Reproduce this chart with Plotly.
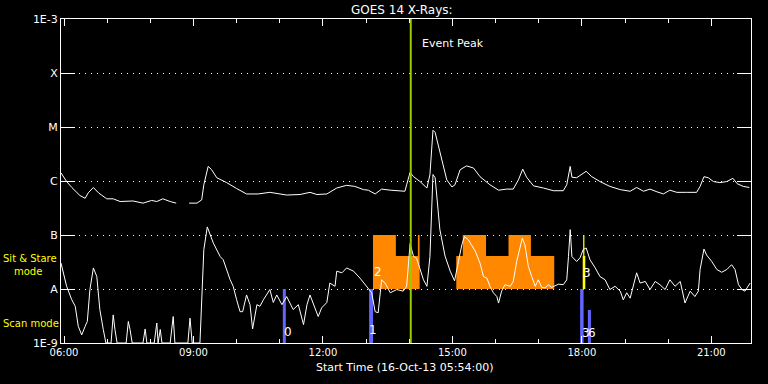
import plotly.graph_objects as go

# ---------------- data (time in decimal hours UT, log10 flux W/m^2) ----------------
long_t = [5.93, 6.06, 6.18, 6.37, 6.49, 6.56, 6.68, 6.80, 6.99, 7.14,
          7.30, 7.60, 7.83, 8.03, 8.15, 8.29, 8.46, 8.60, 8.75, 8.90,
          9.08, 9.19, 9.24, 9.34, 9.42, 9.54, 9.77, 10.00, 10.23, 10.50,
          10.77, 11.16, 11.47, 11.70, 11.86, 12.09, 12.32, 12.55, 12.74, 12.94,
          13.05, 13.21, 13.36, 13.56, 13.90, 13.94, 14.02, 14.10, 14.25, 14.37,
          14.41, 14.48, 14.55, 14.60, 14.75, 14.87, 14.99, 15.06, 15.18, 15.33,
          15.49, 15.64, 15.87, 16.07, 16.26, 16.41, 16.53, 16.63, 16.72, 16.88,
          17.11, 17.34, 17.57, 17.65, 17.73, 17.77, 17.88, 18.00, 18.10, 18.23,
          18.42, 18.65, 18.89, 19.12, 19.27, 19.43, 19.58, 19.74, 19.89, 20.04,
          20.20, 20.43, 20.66, 20.74, 20.83, 20.93, 21.05, 21.20, 21.36, 21.50,
          21.60, 21.74, 21.88]
long_log = [-5.85, -6.01, -6.12, -6.27, -6.32, -6.22, -6.12, -6.22, -6.33, -6.33,
            -6.38, -6.37, -6.41, -6.36, -6.38, -6.33, -6.38, -6.41, None, -6.41,
            -6.41, -6.35, -6.07, -5.73, -5.79, -5.94, -6.03, -6.14, -6.24, -6.24,
            -6.21, -6.26, -6.25, -6.21, -6.25, -6.24, -6.13, -6.08, -6.10, -6.16,
            -6.17, -6.24, -6.15, -6.17, -6.19, -6.07, -5.84, -5.92, -6.01, -6.10,
            -6.13, -5.88, -5.06, -5.10, -5.61, -5.98, -6.11, -6.07, -5.79, -5.72,
            -5.76, -5.92, -6.07, -6.17, -6.15, -6.15, -5.98, -5.78, -5.93, -6.09,
            -6.13, -6.18, -6.18, -6.07, -5.73, -5.93, -5.94, -5.88, -5.82, -5.92,
            -6.01, -6.10, -6.16, -6.19, -6.12, -6.19, -6.15, -6.20, -6.24, -6.17,
            -6.21, -6.21, -6.21, -6.10, -5.92, -5.94, -6.01, -6.03, -6.01, -5.95,
            -6.05, -6.10, -6.12]

short_t = [5.93, 6.06, 6.18, 6.26, 6.33, 6.41, 6.49, 6.54, 6.60, 6.68,
           6.76, 6.83, 6.91, 6.97, 7.09, 7.14, 7.18, 7.23, 7.44, 7.49,
           7.53, 7.58, 7.83, 7.88, 7.92, 8.09, 8.15, 8.18, 8.23, 8.27,
           8.46, 8.53, 8.57, 8.87, 8.92, 8.97, 9.15, 9.19, 9.24, 9.32,
           9.46, 9.62, 9.69, 9.85, 9.92, 10.00, 10.08, 10.14, 10.23, 10.31,
           10.37, 10.47, 10.54, 10.62, 10.77, 10.85, 10.93, 11.05, 11.16, 11.31,
           11.43, 11.55, 11.63, 11.70, 11.82, 11.89, 11.97, 12.09, 12.16, 12.28,
           12.32, 12.44, 12.55, 12.71, 12.86, 13.02, 13.13, 13.21, 13.28, 13.36,
           13.44, 13.56, 13.71, 13.86, 13.94, 14.02, 14.10, 14.17, 14.25, 14.33,
           14.41, 14.48, 14.55, 14.60, 14.71, 14.83, 14.95, 15.05, 15.14, 15.22,
           15.28, 15.37, 15.53, 15.64, 15.72, 15.80, 15.87, 15.95, 16.03, 16.07,
           16.14, 16.22, 16.34, 16.41, 16.49, 16.57, 16.62, 16.68, 16.76, 16.84,
           16.92, 16.99, 17.07, 17.15, 17.22, 17.30, 17.46, 17.57, 17.65, 17.69,
           17.73, 17.77, 17.88, 17.96, 18.03, 18.10, 18.19, 18.31, 18.42, 18.54,
           18.65, 18.77, 18.89, 18.96, 19.04, 19.12, 19.19, 19.27, 19.35, 19.47,
           19.58, 19.70, 19.81, 19.93, 20.04, 20.16, 20.28, 20.35, 20.39, 20.51,
           20.62, 20.70, 20.74, 20.83, 20.89, 21.01, 21.13, 21.24, 21.36, 21.47,
           21.55, 21.63, 21.71, 21.78, 21.86, 21.90]
short_log = [-7.52, -7.95, -8.20, -8.32, -8.69, -8.85, -8.69, -8.60, -8.01, -7.61,
             -7.77, -8.38, -8.75, -9.00, -9.00, -8.48, -8.75, -9.00, -9.00, -8.60,
             -8.75, -9.00, -9.00, -8.74, -9.00, -9.00, -8.63, -9.00, -8.75, -9.00,
             -9.00, -8.51, -9.00, -9.00, -8.54, -9.00, -9.00, -8.20, -7.27, -6.85,
             -7.15, -7.40, -7.46, -7.83, -7.95, -8.20, -8.42, -8.42, -8.11, -8.29,
             -8.74, -8.29, -8.32, -8.20, -8.01, -8.25, -8.11, -8.29, -8.14, -8.38,
             -8.29, -8.66, -8.29, -8.11, -8.35, -8.51, -8.35, -8.25, -7.89, -7.95,
             -7.67, -7.70, -7.61, -7.67, -7.80, -7.95, -8.07, -8.42, -8.44, -7.83,
             -7.89, -8.07, -8.01, -8.04, -7.95, -7.16, -7.40, -7.43, -7.61, -7.83,
             -7.95, -7.40, -5.88, -5.94, -6.90, -7.39, -7.67, -7.85, -7.49, -7.18,
             -7.03, -7.09, -7.30, -7.52, -7.77, -7.80, -7.95, -8.07, -8.14, -8.26,
             -8.04, -7.92, -7.95, -7.86, -7.49, -7.24, -7.06, -7.18, -7.58, -7.77,
             -7.95, -7.83, -7.97, -7.98, -7.92, -7.97, -7.91, -7.92, -7.83, -7.40,
             -6.90, -7.40, -7.49, -7.42, -7.27, -7.24, -7.46, -7.61, -7.77, -7.83,
             -8.01, -7.95, -8.04, -8.20, -8.07, -8.17, -7.95, -7.70, -7.89, -7.86,
             -8.01, -7.86, -7.92, -8.01, -7.83, -7.95, -7.86, -8.11, -8.26, -8.04,
             -8.14, -8.04, -7.64, -7.26, -7.37, -7.49, -7.64, -7.69, -7.64, -7.55,
             -7.64, -7.92, -8.01, -8.04, -7.95, -7.89]

# Scan-mode observations (blue bars)
scan_start = [11.07, 13.07, 17.96, 18.14]
scan_end = [11.14, 13.16, 18.04, 18.21]
scan_top = [1e-8, 1e-8, 1e-8, 4.1e-9]

# Sit & Stare observations (orange blocks)
ss_start = [13.16, 13.16, 14.20, 15.09, 15.24, 16.30]
ss_end = [13.69, 14.23, 14.24, 17.36, 15.78, 16.82]
ss_top = [1e-7, 4.1e-8, 1e-7, 4.1e-8, 1e-7, 1e-7]

# highlighted (yellow) sit & stare observation
hl_start = [18.02, 18.03]
hl_end = [18.08, 18.06]
hl_top = [4.1e-8, 1e-7]

event_peak = 14.035

# event labels: text, time, log10 height
label_text = ["0", "1", "3", "6", "2", "3"]
label_t = [11.18, 13.15, 18.10, 18.24, 13.28, 18.11]
label_log = [-8.80, -8.75, -8.81, -8.81, -7.69, -7.70]

x_tickvals = [6, 9, 12, 15, 18, 21]
x_ticktext = ["06:00", "09:00", "12:00", "15:00", "18:00", "21:00"]
y_tickvals = [1e-9, 1e-8, 1e-7, 1e-6, 1e-5, 1e-4, 1e-3]
y_ticktext = ["1E-9", "A", "B", "C", "M", "X", "1E-3"]

FONT = "DejaVu Sans"

fig = go.Figure()


def rect(x0, x1, y0, y1, color):
    fig.add_trace(go.Scatter(x=[x0, x1, x1, x0, x0], y=[y0, y0, y1, y1, y0],
                             mode="lines", fill="toself", fillcolor=color,
                             line=dict(width=0, color=color), hoverinfo="skip"))


for a, b, t in zip(ss_start, ss_end, ss_top):
    rect(a, b, 1e-8, t, "#ff8800")
for a, b, t in zip(hl_start, hl_end, hl_top):
    rect(a, b, 1e-8, t, "#ffff00")
for a, b, t in zip(scan_start, scan_end, scan_top):
    rect(a, b, 1e-9, t, "#6464ff")

long_flux = [None if v is None else 10 ** v for v in long_log]
short_flux = [None if v is None else 10 ** v for v in short_log]

fig.add_trace(go.Scatter(x=long_t, y=long_flux, mode="lines",
                         line=dict(color="white", width=1), connectgaps=False))
fig.add_trace(go.Scatter(x=short_t, y=short_flux, mode="lines",
                         line=dict(color="white", width=1)))

fig.add_trace(go.Scatter(x=[event_peak, event_peak], y=[1e-9, 1e-3], mode="lines",
                         line=dict(color="#99cc00", width=2)))

annotations = []
for txt, t, lg in zip(label_text, label_t, label_log):
    annotations.append(dict(x=t, y=lg, xref="x", yref="y", text=txt, showarrow=False,
                            xanchor="center", yanchor="middle",
                            font=dict(family=FONT, size=12, color="white")))

W_L, W_R, H_T, H_B = 61, 751, 19, 343


def px(xp):
    return (xp - W_L) / (W_R - W_L)


def py(yp):
    return (H_B - yp) / (H_B - H_T)


def note(x, y, text, color="white", size=11, xref="paper", **kw):
    d = dict(x=x, y=y, xref=xref, yref="paper", text=text, showarrow=False,
             xanchor="center", yanchor="middle",
             font=dict(family=FONT, size=size, color=color))
    d.update(kw)
    return d


annotations += [
    note(px(402), py(10), "GOES 14 X-Rays:", size=12),
    note(px(404.5), py(368), "Start Time (16-Oct-13 05:54:00)"),
    note(event_peak, py(43), "Event Peak", xref="x", xanchor="left", xshift=9),
    note(px(1), py(258), "Sit & Stare", color="#ffff00", size=10, xanchor="left"),
    note(px(12), py(271.5), "mode", color="#ffff00", size=10, xanchor="left"),
    note(px(1), py(323.5), "Scan mode", color="#ffff00", size=10, xanchor="left"),
]

fig.update_layout(
    width=768, height=384,
    margin=dict(l=W_L, r=768 - W_R, t=H_T, b=384 - H_B, pad=0),
    paper_bgcolor="black", plot_bgcolor="black",
    showlegend=False,
    annotations=annotations,
    xaxis=dict(range=[5.93, 21.92], showline=True, linecolor="white", linewidth=1,
               mirror="ticks", ticks="inside", ticklen=7, tickcolor="white",
               tickwidth=1, tickvals=x_tickvals, ticktext=x_ticktext,
               tickfont=dict(family=FONT, size=10, color="white"),
               showgrid=False, zeroline=False,
               minor=dict(tick0=6, dtick=1, ticks="inside", ticklen=4,
                          tickcolor="white", showgrid=False)),
    yaxis=dict(type="log", range=[-9, -3], showline=True, linecolor="white",
               linewidth=1, mirror="ticks", ticks="inside", ticklen=14,
               tickcolor="white", tickwidth=1, tickvals=y_tickvals,
               ticktext=y_ticktext,
               tickfont=dict(family=FONT, size=11, color="white"),
               showgrid=True, gridcolor="white", gridwidth=1,
               griddash="1px,5px", zeroline=False),
)

fig.write_html("out.html")
